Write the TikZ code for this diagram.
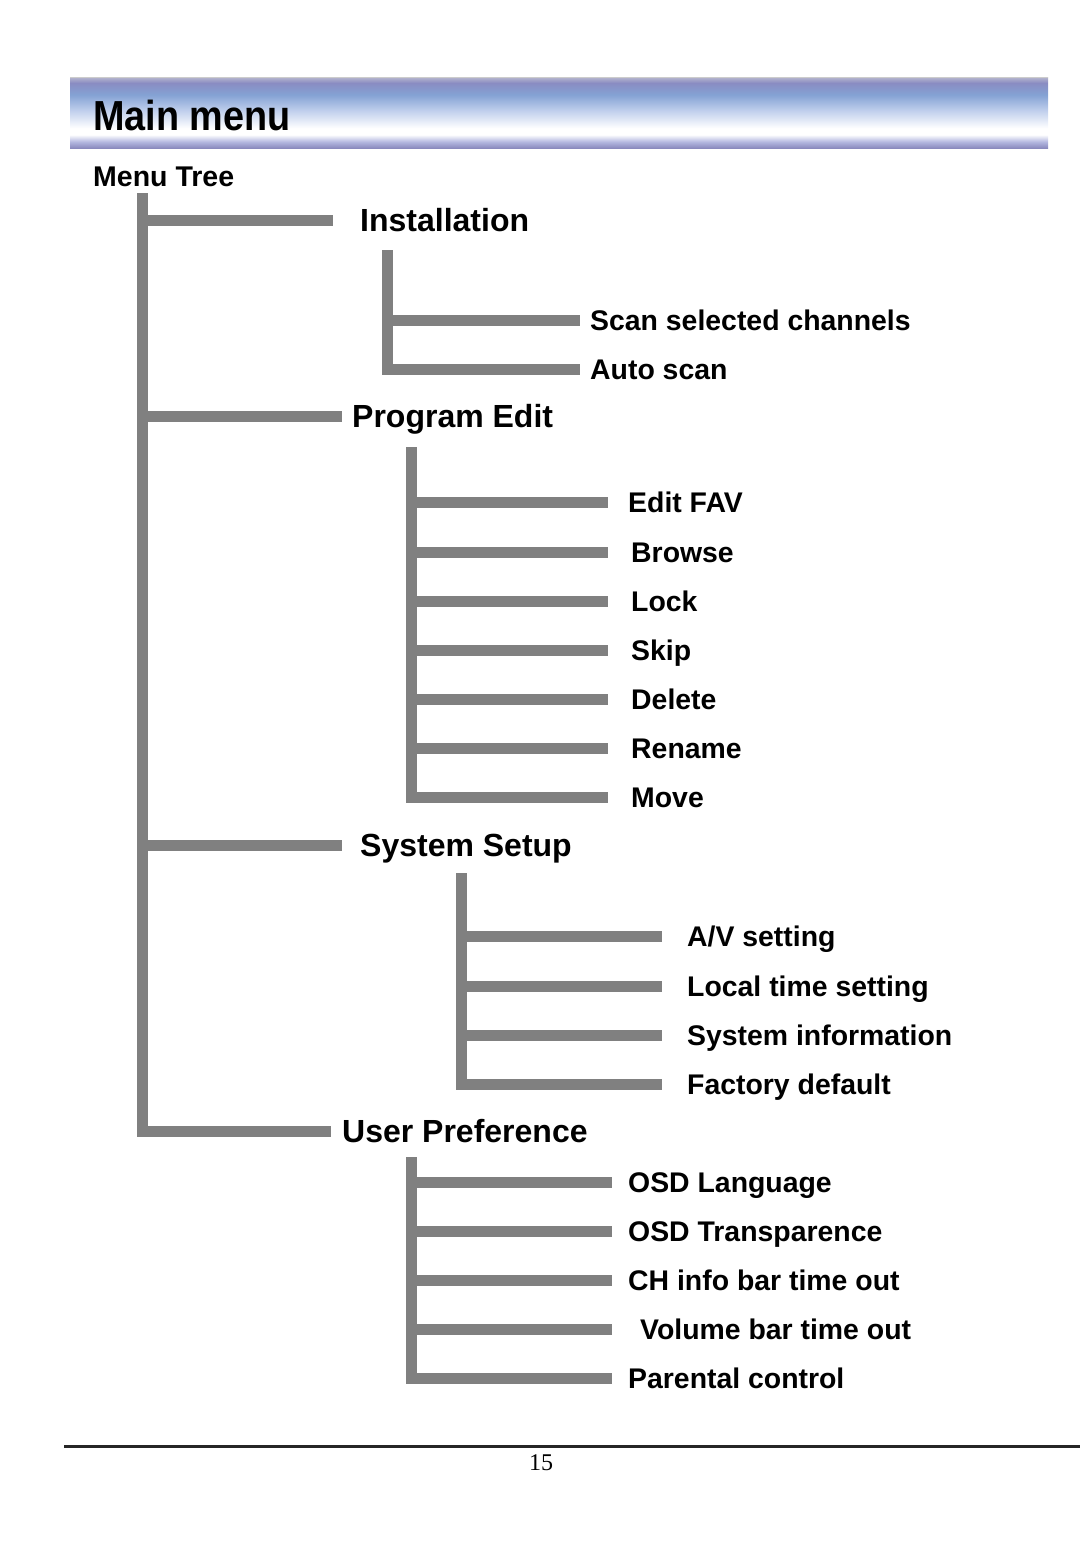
\documentclass[tikz,border=0pt]{standalone}
\usepackage{fontspec}
\setmainfont{Liberation Sans}
\newfontfamily\pagenumfont{Liberation Serif}
\newfontfamily\bannerfont[FakeStretch=0.9]{Liberation Sans}
\usepackage{tikz}
\usetikzlibrary{calc,positioning}

\definecolor{barcol}{HTML}{808080}
\definecolor{bnBot}{HTML}{8A8ABE}
\definecolor{bnLow}{HTML}{B4B8E0}
\definecolor{bnMid}{HTML}{C4D2EE}
\definecolor{bnBlue}{HTML}{84A2D4}
\definecolor{bnTop}{HTML}{8A8CC2}
\definecolor{bnEdge}{HTML}{B0B0CC}
% tikz maps the path box to 25bp..75bp
\pgfdeclareverticalshading{banner}{100bp}{color(0bp)=(bnBot); color(25bp)=(bnBot); color(29.5bp)=(bnLow); color(34.5bp)=(white); color(39bp)=(white); color(51bp)=(bnMid); color(63bp)=(bnBlue); color(71.5bp)=(bnTop); color(75bp)=(bnEdge); color(100bp)=(bnEdge)}

\begin{document}
\begin{tikzpicture}[
    x=1pt, y=-1pt,
    bar/.style={draw=barcol, line width=11pt},
    title/.style={anchor=west, inner sep=0pt, font=\bannerfont\fontsize{42}{46}\selectfont\bfseries},
    sub/.style={anchor=west, inner sep=0pt, text height=20pt, text depth=0pt, font=\fontsize{28.5}{32}\selectfont\bfseries},
    head/.style={anchor=west, inner sep=0pt, text height=23pt, text depth=0pt, font=\fontsize{32}{36}\selectfont\bfseries},
    item/.style={anchor=west, inner sep=0pt, text height=20pt, text depth=0pt, font=\fontsize{28.4}{32}\selectfont\bfseries}
]
\useasboundingbox (0,0) rectangle (1080,1568);

% banner
\shade[shading=banner] (70,78) rectangle (1048,148);
\draw[black!20, line width=1pt] (70,78) -- (1048,78);
\node[title] (title) at (93,115) {Main menu};
\node[sub] (tree) at (93,176) {Menu Tree};

% first level
\node[head] (inst) at (360,220) {Installation};
\node[head] (prog) at (352,416) {Program Edit};
\node[head] (sys) at (360,845) {System Setup};
\node[head] (user) at (342,1131) {User Preference};

% installation
\node[item] (scan) at (590,320) {Scan selected channels};
\node[item] (auto) at (590,369) {Auto scan};

% program edit
\node[item] (fav) at (628,502) {Edit FAV};
\node[item] (browse) at (631,552) {Browse};
\node[item] (lock) at (631,601) {Lock};
\node[item] (skip) at (631,650) {Skip};
\node[item] (delete) at (631,699) {Delete};
\node[item] (rename) at (631,748) {Rename};
\node[item] (move) at (631,797) {Move};

% system setup
\node[item] (av) at (687,936) {A/V setting};
\node[item] (local) at (687,986) {Local time setting};
\node[item] (info) at (687,1035) {System information};
\node[item] (factory) at (687,1084) {Factory default};

% user preference
\node[item] (osdlang) at (628,1182) {OSD Language};
\node[item] (osdtrans) at (628,1231) {OSD Transparence};
\node[item] (chinfo) at (628,1280) {CH info bar time out};
\node[item] (volume) at (640,1329) {Volume bar time out};
\node[item] (parental) at (628,1378) {Parental control};

% trunks
\coordinate (root) at (142,193);
\coordinate (inst-top) at (387,250);
\coordinate (inst-end) at (580,0);
\coordinate (prog-top) at (411,447);
\coordinate (prog-end) at (608,0);
\coordinate (sys-top) at (461,873);
\coordinate (sys-end) at (662,0);
\coordinate (user-top) at (411,1157);
\coordinate (user-end) at (612,0);

\draw[bar] (root |- inst.west) -- ([xshift=-27pt]inst.west);
\draw[bar] (root |- prog.west) -- ([xshift=-10pt]prog.west);
\draw[bar] (root |- sys.west) -- ([xshift=-18pt]sys.west);
\draw[bar] (root) |- ([xshift=-11pt]user.west);

\draw[bar] (inst-top |- scan.west) -- (inst-end |- scan.west);
\draw[bar] (inst-top) |- (inst-end |- auto.west);

\draw[bar] (prog-top |- fav.west) -- (prog-end |- fav.west);
\draw[bar] (prog-top |- browse.west) -- (prog-end |- browse.west);
\draw[bar] (prog-top |- lock.west) -- (prog-end |- lock.west);
\draw[bar] (prog-top |- skip.west) -- (prog-end |- skip.west);
\draw[bar] (prog-top |- delete.west) -- (prog-end |- delete.west);
\draw[bar] (prog-top |- rename.west) -- (prog-end |- rename.west);
\draw[bar] (prog-top) |- (prog-end |- move.west);

\draw[bar] (sys-top |- av.west) -- (sys-end |- av.west);
\draw[bar] (sys-top |- local.west) -- (sys-end |- local.west);
\draw[bar] (sys-top |- info.west) -- (sys-end |- info.west);
\draw[bar] (sys-top) |- (sys-end |- factory.west);

\draw[bar] (user-top |- osdlang.west) -- (user-end |- osdlang.west);
\draw[bar] (user-top |- osdtrans.west) -- (user-end |- osdtrans.west);
\draw[bar] (user-top |- chinfo.west) -- (user-end |- chinfo.west);
\draw[bar] (user-top |- volume.west) -- (user-end |- volume.west);
\draw[bar] (user-top) |- (user-end |- parental.west);

% footer
\draw[line width=3pt, black!85] (64,1446) -- (1080,1446);
\node[font=\pagenumfont\fontsize{24}{26}\selectfont, inner sep=0pt] (page) at (541,1463) {15};
\end{tikzpicture}
\end{document}
